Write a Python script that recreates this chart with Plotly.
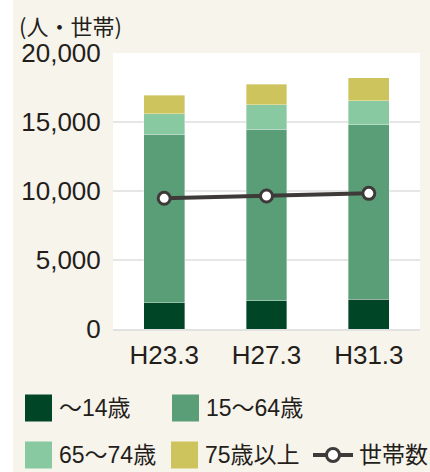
import plotly.graph_objects as go

categories = ["H23.3", "H27.3", "H31.3"]
series_names = ["〜14歳", "15〜64歳", "65〜74歳", "75歳以上"]
age_0_14 = [1900, 2030, 2150]
age_15_64 = [12200, 12460, 12650]
age_65_74 = [1500, 1760, 1740]
age_75_up = [1350, 1480, 1670]
households = [9470, 9640, 9830]
line_name = "世帯数"
y_ticks = [0, 5000, 10000, 15000, 20000]
y_title = "(人・世帯)"

colors = ["#004526", "#5a9e78", "#88c9a2", "#cdc45e"]
line_color = "#3e3a39"
text_color = "#241e1b"
bg = "#f7f4ec"
FONT = "Liberation Sans, Noto Sans CJK JP, sans-serif"
CJK = "Noto Sans CJK JP, sans-serif"

W, H = 430, 472
L, R, T, B = 113, 10, 53, 143
PW = W - L - R
PH = H - T - B


def px(x):
    return (x - L) / PW


def py(y):
    return (H - B - y) / PH


fig = go.Figure()
for name, vals, col in zip(series_names, [age_0_14, age_15_64, age_65_74, age_75_up], colors):
    fig.add_trace(go.Bar(
        x=categories, y=vals, name=name, marker_color=col,
        marker_line=dict(color="rgba(255,255,255,0.6)", width=0.6),
        width=0.4, showlegend=False,
    ))

fig.add_trace(go.Scatter(
    x=categories, y=households, name=line_name, mode="lines+markers",
    line=dict(color=line_color, width=4),
    marker=dict(size=12, color="white", line=dict(color=line_color, width=3)),
    showlegend=False,
))

shapes = []
annotations = []
# left white strip
shapes.append(dict(type="rect", xref="paper", yref="paper", x0=px(0), x1=px(13), y0=py(H), y1=py(0),
                   fillcolor="white", line_width=0, layer="below"))

# manual legend
legend_pos = [(25, 408), (172, 408), (25, 455), (171, 455)]
for (lx, ly), name, col in zip(legend_pos, series_names, colors):
    shapes.append(dict(type="rect", xref="paper", yref="paper",
                       x0=px(lx), x1=px(lx + 27), y0=py(ly + 13.5), y1=py(ly - 13.5),
                       fillcolor=col, line_width=0))
    annotations.append(dict(x=px(lx + 32), y=py(ly), xref="paper", yref="paper", text=name,
                            showarrow=False, xanchor="left", yanchor="middle",
                            font=dict(size=23, color=text_color, family=FONT)))
# line legend
shapes.append(dict(type="line", xref="paper", yref="paper", x0=px(313), x1=px(353), y0=py(455), y1=py(455),
                   line=dict(color=line_color, width=4)))
shapes.append(dict(type="circle", xref="paper", yref="paper", x0=px(326.5), x1=px(339.5),
                   y0=py(461.5), y1=py(448.5), fillcolor="white", line=dict(color=line_color, width=3)))
annotations.append(dict(x=px(357), y=py(455), xref="paper", yref="paper", text=line_name,
                        showarrow=False, xanchor="left", yanchor="middle",
                        font=dict(size=23, color=text_color, family=FONT)))
# y title
annotations.append(dict(x=px(17), y=py(25), xref="paper", yref="paper", text=y_title,
                        showarrow=False, xanchor="left", yanchor="middle",
                        font=dict(size=22, color=text_color, family=CJK)))

fig.update_layout(
    width=W, height=H,
    margin=dict(l=L, r=R, t=T, b=B),
    barmode="stack",
    bargap=0.6,
    paper_bgcolor=bg,
    plot_bgcolor="white",
    font=dict(family=FONT, color=text_color, size=25),
    shapes=shapes,
    annotations=annotations,
    showlegend=False,
)
fig.update_xaxes(
    showgrid=False, showline=True, linecolor="#e2e2e2", linewidth=2,
    tickfont=dict(size=26, color=text_color, family=FONT),
    ticks="outside", ticklen=2, tickcolor="rgba(0,0,0,0)",
)
fig.update_yaxes(
    range=[0, 20000], tickvals=y_ticks, tickformat=",",
    showgrid=True, gridcolor="#e6e6e6", gridwidth=2,
    zeroline=False,
    tickfont=dict(size=26, color=text_color, family=FONT),
    ticks="outside", ticklen=6, tickcolor="rgba(0,0,0,0)",
)

fig.write_html(
    "out.html",
    config={"displayModeBar": False},
    post_script="document.body.style.margin='0';document.body.style.overflow='hidden';",
)
